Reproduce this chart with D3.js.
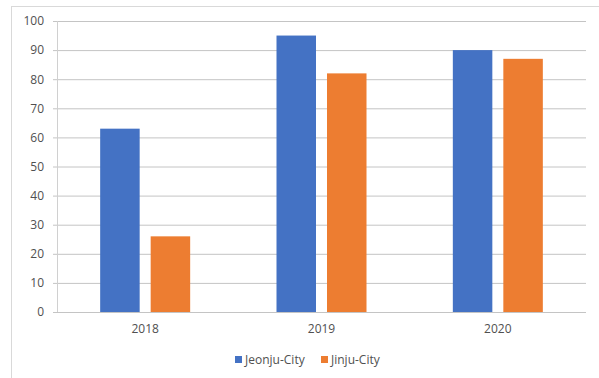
<!DOCTYPE html>
<html>
<head>
<meta charset="utf-8">
<script src="https://cdn.jsdelivr.net/npm/d3@7"></script>
<style>
  body { margin: 0; background: #fff; }
  text { font-family: "Open Sans", sans-serif; fill: #505050; }
</style>
</head>
<body>
<svg id="chart" width="599" height="378"></svg>
<script>
const years = ["2018", "2019", "2020"];
const seriesNames = ["Jeonju-City", "Jinju-City"];
const jeonju = [63, 95, 90];
const jinju = [26, 82, 87];
const yTicks = [0, 10, 20, 30, 40, 50, 60, 70, 80, 90, 100];

const colors = ["#4472C4", "#ED7D31"];
const values = [jeonju, jinju];

const svg = d3.select("#chart");
const margin = { left: 57, right: 13, top: 21, bottom: 66 };
const width = 599, height = 378;

// outer frame
svg.append("rect")
    .attr("x", 11.5).attr("y", 6.5)
    .attr("width", 600).attr("height", 380)
    .attr("fill", "none")
    .attr("stroke", "#d9d9d9");

const x = d3.scaleBand()
    .domain(years)
    .range([margin.left, width - margin.right]);

const y = d3.scaleLinear()
    .domain([0, 100])
    .range([height - margin.bottom, margin.top]);

// gridlines + y labels
const yAxis = svg.append("g")
    .attr("transform", `translate(${margin.left},0)`)
    .call(d3.axisLeft(y)
        .tickValues(yTicks)
        .tickSize(-(width - margin.right - margin.left))
        .tickSizeOuter(0)
        .tickPadding(13));
yAxis.select(".domain").remove();
yAxis.selectAll(".tick line")
    .attr("x1", -4)
    .attr("stroke", "#c4c4c4")
    .attr("stroke-width", 1);
yAxis.selectAll(".tick text")
    .style("font-size", "12px")
    .attr("fill", "#505050");

// left axis line
svg.append("line")
    .attr("x1", margin.left + 0.5).attr("x2", margin.left + 0.5)
    .attr("y1", y(100)).attr("y2", y(0))
    .attr("stroke", "#d0d0d0");

// bars
const barW = 39.5, gap = 11;
seriesNames.forEach((name, si) => {
    svg.append("g").selectAll("rect")
        .data(years)
        .join("rect")
        .attr("x", d => x(d) + x.bandwidth() / 2 - barW - gap / 2 + si * (barW + gap))
        .attr("y", (d, i) => y(values[si][i]))
        .attr("width", barW)
        .attr("height", (d, i) => y(0) - y(values[si][i]))
        .attr("fill", colors[si]);
});

// x labels
const xAxis = svg.append("g")
    .attr("transform", `translate(0,${y(0)})`)
    .call(d3.axisBottom(x).tickSize(0).tickPadding(12));
xAxis.select(".domain").remove();
xAxis.selectAll(".tick text")
    .style("font-size", "12px")
    .attr("fill", "#505050");

// legend
const legendX = [235, 321];
const legend = svg.append("g").selectAll("g")
    .data(seriesNames)
    .join("g")
    .attr("transform", (d, i) => `translate(${legendX[i]},356)`);
legend.append("rect")
    .attr("width", 7).attr("height", 7)
    .attr("fill", (d, i) => colors[i]);
legend.append("text")
    .attr("x", 10).attr("y", 3.5)
    .attr("dy", "0.35em")
    .style("font-size", "12px")
    .text(d => d);
</script>
</body>
</html>
